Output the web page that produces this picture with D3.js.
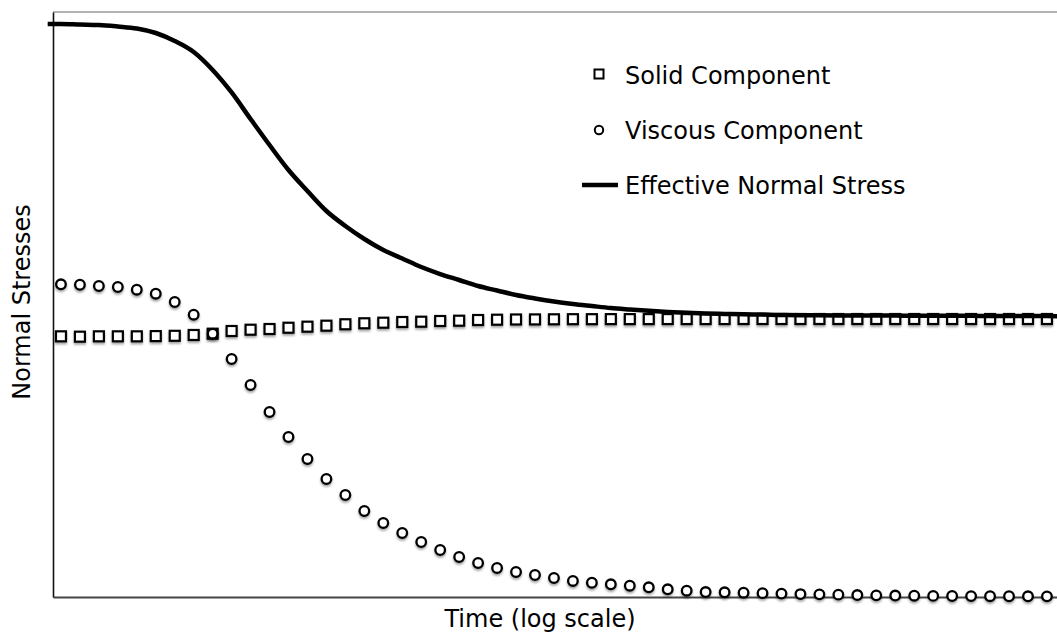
<!DOCTYPE html>
<html>
<head>
<meta charset="utf-8">
<script src="https://cdn.jsdelivr.net/npm/d3@7"></script>
<style>
  body { margin: 0; background: #fff; }
  text { font-family: "DejaVu Sans", Verdana, sans-serif; fill: #000; }
</style>
</head>
<body>
<div id="chart"></div>
<script>
// log10 of time, one sample per marker
var logTime = [-1.0, -0.9, -0.8, -0.7, -0.6, -0.5, -0.4, -0.3, -0.2, -0.1,
  0.0, 0.1, 0.2, 0.3, 0.4, 0.5, 0.6, 0.7, 0.8, 0.9,
  1.0, 1.1, 1.2, 1.3, 1.4, 1.5, 1.6, 1.7, 1.8, 1.9,
  2.0, 2.1, 2.2, 2.3, 2.4, 2.5, 2.6, 2.7, 2.8, 2.9,
  3.0, 3.1, 3.2, 3.3, 3.4, 3.5, 3.6, 3.7, 3.8, 3.9,
  4.0, 4.1, 4.2];

var solid = [44.56, 44.50, 44.56, 44.56, 44.56, 44.60, 44.65, 44.79, 45.01, 45.47,
  45.69, 45.81, 46.03, 46.21, 46.38, 46.62, 46.79, 46.89, 47.01, 47.06,
  47.18, 47.23, 47.35, 47.40, 47.44, 47.45, 47.47, 47.49, 47.49, 47.50,
  47.50, 47.50, 47.51, 47.51, 47.51, 47.51, 47.52, 47.52, 47.52, 47.52,
  47.52, 47.52, 47.52, 47.52, 47.52, 47.52, 47.52, 47.52, 47.52, 47.52,
  47.52, 47.52, 47.52];

var viscous = [53.45, 53.38, 53.16, 52.99, 52.53, 51.85, 50.43, 48.26, 45.01, 40.68,
  36.24, 31.62, 27.35, 23.59, 20.17, 17.44, 14.70, 12.65, 10.94, 9.40,
  8.03, 6.84, 5.81, 4.96, 4.27, 3.76, 3.25, 2.74, 2.44, 2.17,
  1.93, 1.66, 1.32, 1.08, 0.85, 0.80, 0.74, 0.66, 0.58, 0.50,
  0.45, 0.40, 0.33, 0.28, 0.25, 0.22, 0.19, 0.17, 0.15, 0.14,
  0.13, 0.12, 0.11];

// effective stress line runs a little past both ends of the markers
var effTime = [-1.07, -1.0, -0.9, -0.8, -0.7, -0.6, -0.5, -0.4, -0.3, -0.2, -0.1,
  0.0, 0.1, 0.2, 0.3, 0.4, 0.5, 0.6, 0.7, 0.8, 0.9,
  1.0, 1.1, 1.2, 1.3, 1.4, 1.5, 1.6, 1.7, 1.8, 1.9,
  2.0, 2.1, 2.2, 2.3, 2.4, 2.5, 2.6, 2.7, 2.8, 2.9,
  3.0, 3.1, 3.2, 3.3, 3.4, 3.5, 3.6, 3.7, 3.8, 3.9,
  4.0, 4.1, 4.2, 4.27];
var effective = [97.95, 97.95, 97.86, 97.78, 97.52, 97.18, 96.41, 95.04, 93.16, 90.09, 86.24,
  81.71, 77.26, 72.99, 69.40, 65.98, 63.42, 61.20, 59.32, 57.86, 56.41,
  55.21, 54.19, 53.16, 52.39, 51.62, 51.03, 50.51, 50.09, 49.74, 49.40,
  49.15, 48.92, 48.72, 48.58, 48.46, 48.38, 48.32, 48.27, 48.21, 48.17,
  48.15, 48.14, 48.12, 48.11, 48.10, 48.09, 48.08, 48.07, 48.06, 48.05,
  48.04, 48.03, 48.02, 48.01];

var legendLabels = ["Solid Component", "Viscous Component", "Effective Normal Stress"];
var xLabel = "Time (log scale)";
var yLabel = "Normal Stresses";

var W = 1057, H = 635;
var margin = {top: 12, right: 0, bottom: 38, left: 53};
var width = W - margin.left - margin.right;
var height = H - margin.top - margin.bottom;

var svg = d3.select("#chart").append("svg")
    .attr("width", W)
    .attr("height", H);

var defs = svg.append("defs");
defs.append("filter").attr("id", "shadow")
    .attr("x", "-50%").attr("y", "-50%").attr("width", "200%").attr("height", "200%")
  .append("feDropShadow")
    .attr("dx", 0).attr("dy", 2).attr("stdDeviation", 0.9)
    .attr("flood-color", "#000").attr("flood-opacity", 0.35);

var g = svg.append("g")
    .attr("transform", "translate(" + margin.left + "," + margin.top + ")");

var x = d3.scaleLinear().domain([-1.042, 4.253]).range([0, width]);
var y = d3.scaleLinear().domain([0, 100]).range([height, 0]);

// top frame line
g.append("line")
    .attr("x1", 0).attr("x2", width)
    .attr("y1", 0).attr("y2", 0)
    .attr("stroke", "#9a9a9a").attr("stroke-width", 1.5);

var xAxis = g.append("g")
    .attr("transform", "translate(0," + height + ")")
    .call(d3.axisBottom(x).tickValues([]).tickSizeOuter(0));
xAxis.select(".domain").attr("stroke", "#444").attr("stroke-width", 2.2);

var yAxis = g.append("g")
    .call(d3.axisLeft(y).tickValues([]).tickSizeOuter(0));
yAxis.select(".domain").attr("stroke", "#111").attr("stroke-width", 1.6);

// solid component squares
var sq = 10;
g.append("g").attr("filter", "url(#shadow)")
  .selectAll("rect").data(logTime).enter().append("rect")
    .attr("x", function(d) { return x(d) - sq / 2; })
    .attr("y", function(d, i) { return y(solid[i]) - sq / 2; })
    .attr("width", sq).attr("height", sq)
    .attr("fill", "#fff").attr("stroke", "#000").attr("stroke-width", 2.2);

// viscous component circles
g.append("g").attr("filter", "url(#shadow)")
  .selectAll("circle").data(logTime).enter().append("circle")
    .attr("cx", function(d) { return x(d); })
    .attr("cy", function(d, i) { return y(viscous[i]); })
    .attr("r", 4.8)
    .attr("fill", "#fff").attr("stroke", "#000").attr("stroke-width", 2.3);

// effective normal stress
var line = d3.line()
    .x(function(d) { return x(d[0]); })
    .y(function(d) { return y(d[1]); })
    .curve(d3.curveMonotoneX);

g.append("path")
    .attr("d", line(effTime.map(function(t, i) { return [t, effective[i]]; })))
    .attr("fill", "none")
    .attr("stroke", "#000")
    .attr("stroke-width", 4.5);

// legend
var legend = svg.append("g").attr("transform", "translate(599,74)");
legend.append("rect")
    .attr("x", -4.5).attr("y", -4.5).attr("width", 9).attr("height", 9)
    .attr("fill", "#fff").attr("stroke", "#000").attr("stroke-width", 2);
legend.append("circle")
    .attr("cx", 0).attr("cy", 56).attr("r", 4.2)
    .attr("fill", "#fff").attr("stroke", "#000").attr("stroke-width", 2);
legend.append("line")
    .attr("x1", -17).attr("x2", 19).attr("y1", 111).attr("y2", 111)
    .attr("stroke", "#000").attr("stroke-width", 4.5);
legend.selectAll("text").data(legendLabels).enter().append("text")
    .attr("x", 26)
    .attr("y", function(d, i) { return 9.5 + i * 55; })
    .attr("font-size", "24px")
    .text(function(d) { return d; });

// axis labels
svg.append("text")
    .attr("x", 540)
    .attr("y", 627)
    .attr("text-anchor", "middle")
    .attr("font-size", "24px")
    .text(xLabel);

svg.append("text")
    .attr("transform", "translate(30,302) rotate(-90)")
    .attr("text-anchor", "middle")
    .attr("font-size", "24px")
    .text(yLabel);
</script>
</body>
</html>
